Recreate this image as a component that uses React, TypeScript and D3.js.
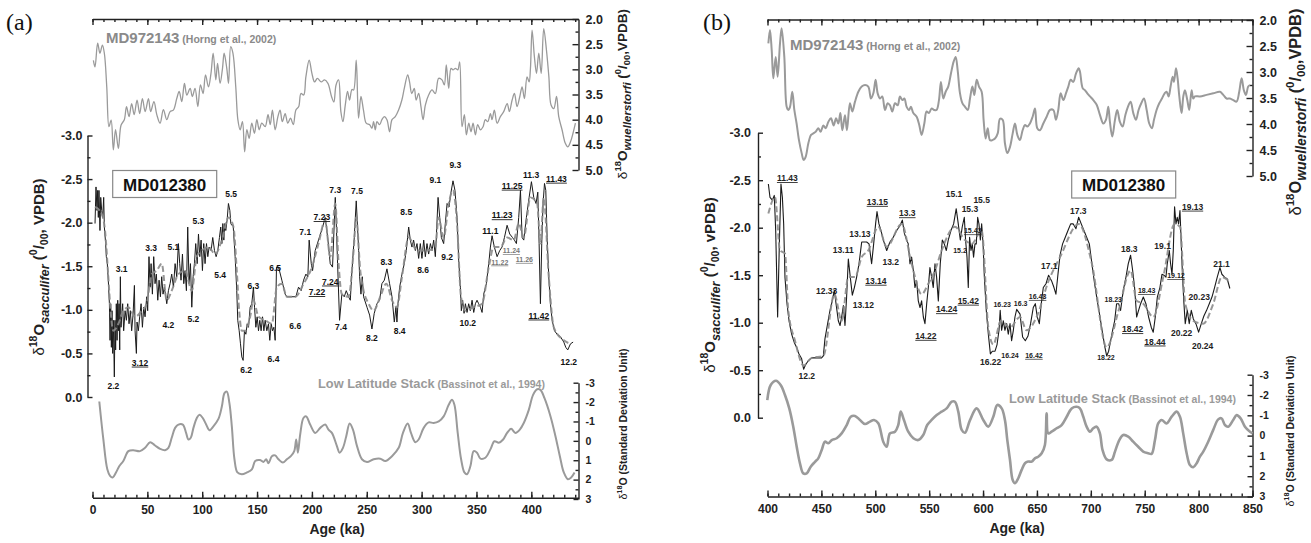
import { useEffect, useRef } from "react";
import * as d3 from "d3";

type Pt = [number, number];
type Lab = [string, number, number, string];

const FONT = "'Liberation Sans', Arial, Helvetica, sans-serif";

// ---------- panel (a): 0-443 ka ----------
const wuelA: Pt[] = [[0.8,2.82],[2.3,2.95],[4.7,2.48],[6.8,2.68],[9,2.52],[10.8,2.68],[13,3.35],[15,4.14],[17,4.01],[19,4.6],[21,4.2],[23.6,4.57],[26,4.11],[29,4.0],[31,3.74],[33.3,3.94],[35.7,3.68],[38,3.9],[40.6,3.61],[43,3.88],[45.5,3.58],[48,3.84],[51,3.58],[53,3.84],[56,3.64],[58.6,3.9],[61.6,4.07],[64.6,3.8],[67.7,4.0],[70.7,3.84],[73.7,3.81],[76.8,3.58],[79,3.44],[81.4,3.64],[83.8,3.28],[86,3.51],[89,3.38],[91,3.54],[93.5,3.38],[96,3.74],[98.4,3.31],[100.8,3.48],[103,3.11],[105.7,3.35],[108,3.08],[110,2.68],[112.4,3.21],[114,2.88],[116.3,3.28],[118.5,2.98],[120,2.68],[122.4,2.98],[124,3.28],[126,2.55],[128,2.68],[130.6,3.35],[132.5,4.0],[134.6,4.2],[136.7,4.04],[138.7,4.64],[140.7,4.2],[142.8,4.37],[145.2,4.07],[147.6,4.27],[149.8,4.0],[152,4.2],[154.3,4.07],[157.4,4.14],[160,3.9],[162,4.1],[164,3.81],[166.5,4.2],[169,3.94],[171,3.81],[173,4.04],[175.6,3.88],[178,4.07],[180.5,3.97],[183,4.1],[185.4,3.81],[188,3.74],[190,3.48],[192.5,3.51],[194.5,3.15],[197.5,2.82],[200,3.08],[202.4,3.25],[205,3.18],[208.5,3.25],[211.5,3.21],[214.6,3.28],[218,3.55],[220,3.65],[222,3.31],[224.3,3.21],[226.4,3.84],[228.3,4.04],[230.4,3.71],[232.5,3.44],[234.3,3.61],[236.5,3.4],[238,3.41],[240.4,2.82],[242.5,3.97],[244.7,3.54],[247,3.81],[249.5,4.07],[252.6,4.1],[254.7,4.17],[256.2,4.04],[257.8,4.2],[259.3,4.04],[261.7,4.1],[263.8,4.0],[266,3.94],[268.4,4.0],[270.8,4.24],[273,4.0],[276,3.94],[279,3.81],[282,3.61],[284.2,3.38],[287.3,3.11],[289,3.25],[291,3.48],[293.3,3.38],[295,3.61],[297.3,3.48],[299.4,3.74],[301.3,4.0],[303.4,3.71],[306.4,3.51],[309.5,3.41],[312.5,3.48],[315.5,3.18],[318.6,3.21],[320.7,3.31],[322.5,2.91],[324.7,3.38],[326.8,2.98],[328.6,3.01],[330.8,2.98],[333,3.01],[334.7,2.85],[336.8,4.14],[339,3.9],[340.8,4.3],[343,4.07],[345,4.24],[346.9,4.07],[349,4.3],[351.1,4.1],[353.6,4.2],[356,4.14],[358,4.0],[360.3,4.04],[362.7,3.88],[364.2,4.0],[366.3,3.81],[368.8,4.07],[371.8,3.94],[374.8,3.84],[378,3.68],[380,3.84],[382.5,3.61],[384.6,3.48],[387,3.74],[389.5,3.54],[391.6,3.35],[393.7,3.58],[396.1,3.15],[398,3.25],[399.2,2.98],[400.7,2.22],[402.8,2.75],[404.7,3.08],[406.8,2.68],[409,3.08],[411.3,2.19],[413.8,2.62],[416,3.15],[418,3.71],[420.5,3.78],[423,3.54],[425,3.94],[428,4.2],[431,4.47],[433.2,4.54],[435.7,4.44],[438,4.27],[440.2,4.07]];

const saccA: Pt[] = [[2.3,-1.99],[3.2,-2.41],[4.1,-2.14],[4.7,-2.37],[5.3,-2.06],[5.9,-2.37],[6.8,-1.91],[7.5,-2.29],[8.4,-2.14],[9.3,-2.06],[10.2,-2.29],[10.8,-1.95],[12,-1.76],[12.6,-1.61],[13.5,-1.53],[14.4,-1.34],[15.4,-1.07],[16,-0.65],[16.6,-1.07],[17.2,-0.57],[17.8,-0.99],[18.4,-0.5],[19,-0.88],[19.9,-0.23],[20.5,-0.88],[21.1,-0.54],[21.7,-1.07],[22.4,-0.65],[23,-1.11],[23.6,-0.76],[24.2,-1.07],[24.8,-0.54],[25.4,-1.38],[26,-0.8],[26.6,-0.92],[27.5,-1.07],[28.4,-0.76],[29.7,-0.99],[30.9,-0.88],[32.1,-1.07],[33.3,-0.84],[34.5,-0.99],[35.7,-0.76],[37,-0.95],[38.2,-1.28],[38.8,-0.76],[40,-0.5],[40.6,-0.86],[41.8,-0.76],[43,-0.92],[44.3,-1.07],[45.5,-0.8],[46.7,-1.03],[47.9,-0.92],[49.4,-1.15],[50.3,-0.99],[51.5,-1.61],[52.5,-1.26],[53.4,-1.53],[54.6,-1.18],[55.8,-1.61],[57,-1.3],[58.2,-1.41],[59.5,-1.11],[60.7,-1.34],[61.9,-1.15],[63.1,-1.38],[64.3,-1.18],[65.5,-1.26],[67.7,-1.07],[69.2,-1.22],[70.7,-1.3],[72.2,-1.41],[73.8,-1.26],[75.3,-1.53],[76.8,-1.38],[78.3,-1.76],[79.5,-1.53],[80.7,-1.34],[82,-1.64],[83.2,-1.3],[84.4,-1.45],[85.6,-1.22],[86.8,-1.95],[88,-1.3],[89.3,-1.53],[90.5,-1.03],[91.7,-1.38],[92.9,-1.53],[94.1,-1.76],[95.4,-1.53],[96.6,-1.87],[97.8,-1.61],[99,-1.8],[100.2,-1.45],[101.4,-1.76],[102.6,-1.53],[103.9,-1.76],[105.1,-1.61],[106.3,-1.72],[108.1,-1.68],[109.6,-1.83],[111.2,-1.68],[112.7,-1.61],[114.2,-1.68],[115.7,-1.83],[116.9,-1.95],[117.9,-1.76],[118.8,-1.99],[119.7,-1.8],[120.6,-1.99],[121.5,-1.91],[122.7,-2.03],[123.9,-2.22],[125.2,-2.14],[126.1,-1.99],[127,-1.97],[128.2,-1.97],[130,-1.61],[131.5,-1.22],[132.4,-0.88],[133.7,-0.76],[134.9,-0.61],[136.1,-0.46],[137.3,-0.42],[138.5,-0.76],[139.8,-0.72],[141,-0.84],[142.2,-0.8],[143.7,-1.03],[145.2,-1.07],[146.7,-1.26],[147.7,-1.03],[148.9,-0.8],[150.1,-0.92],[151.3,-0.76],[152.5,-0.88],[153.7,-0.76],[155,-0.92],[156.2,-0.76],[157.4,-0.88],[158.9,-0.76],[160.4,-0.84],[161.6,-0.65],[162.9,-0.84],[164.1,-0.76],[165.3,-0.8],[166.5,-0.65],[167.7,-1.49],[169.6,-1.49],[172.6,-1.34],[175.6,-1.18],[177.2,-1.15],[181.7,-1.15],[185.4,-1.15],[187.8,-1.26],[190.2,-1.22],[192.4,-1.34],[194.5,-1.41],[196.3,-1.38],[197.5,-1.8],[199.4,-1.53],[200.6,-1.45],[203,-1.68],[206,-1.8],[209.8,-1.95],[212.1,-2.06],[214.6,-1.8],[216.7,-1.53],[218.8,-1.49],[221.3,-2.29],[222.2,-1.99],[223.4,-1.53],[225.2,-0.88],[227.3,-1.18],[229.5,-1.15],[231.3,-1.22],[233.4,-1.15],[235,-1.11],[236.5,-1.45],[238.6,-1.83],[240.4,-2.25],[241.6,-1.95],[242.6,-1.68],[243.5,-1.38],[244.7,-1.18],[245.9,-1.38],[247.1,-1.15],[250.2,-1.03],[252.6,-0.94],[254.7,-0.78],[256.8,-0.96],[259.3,-1.07],[261.7,-1.11],[263.8,-1.3],[266,-1.34],[268.4,-1.47],[270.8,-1.3],[273,-1.15],[275.1,-0.86],[276.6,-1.03],[277.5,-0.86],[278.4,-1.07],[280,-1.26],[282.1,-1.41],[284.2,-1.53],[286,-1.68],[288.2,-1.95],[289.7,-1.8],[291.2,-1.72],[292.7,-1.8],[294.3,-1.68],[295.8,-1.76],[297.3,-1.59],[298.8,-1.76],[300.3,-1.59],[301.9,-1.8],[303.4,-1.61],[304.9,-1.76],[306.4,-1.64],[308,-1.76],[309.5,-1.68],[311,-1.8],[312.5,-1.61],[313.4,-1.83],[315,-2.29],[316.5,-2.06],[318,-1.83],[320.1,-1.76],[321.6,-1.99],[323.2,-2.22],[325,-2.18],[326.8,-2.35],[328.6,-2.48],[330.4,-2.37],[332.3,-2.06],[333.8,-1.57],[335.3,-1.26],[336.2,-0.99],[337.4,-1.11],[338.7,-0.96],[339.9,-1.07],[341.4,-0.97],[342.9,-1.07],[344.4,-0.99],[346,-1.11],[347.5,-0.97],[349,-1.07],[350.5,-1.11],[352,-1.07],[353.6,-1.03],[355.1,-0.97],[356.6,-1.18],[359,-1.3],[361.2,-1.53],[362.7,-1.72],[364.2,-1.85],[366.3,-1.72],[368.8,-1.61],[371.2,-1.68],[373.3,-1.72],[375.5,-1.83],[377.9,-1.97],[380.3,-1.87],[382.8,-1.83],[384.6,-1.8],[386.4,-1.76],[388.5,-2.06],[390.1,-2.37],[391.6,-1.83],[393.1,-1.8],[395.5,-2.06],[398,-2.29],[400.1,-2.47],[402.2,-2.29],[404.3,-2.22],[405.9,-2.35],[407.1,-1.76],[408.3,-1.07],[409.5,-1.76],[410.7,-2.22],[412,-2.45],[413.2,-2.37],[414.4,-1.83],[415.9,-1.38],[417.4,-1.07],[419,-0.88],[421.1,-0.76],[423.5,-0.72],[426.6,-0.69],[429.6,-0.63],[431.4,-0.57],[433.2,-0.54],[435.7,-0.61],[438.1,-0.63]];

const saccSmoothA: Pt[] = [[2.3,-2.18],[8.4,-2.1],[11.4,-1.91],[14.4,-1.38],[16,-1.07],[19,-0.76],[23.6,-0.84],[28.1,-0.99],[32.7,-1.03],[38.8,-0.92],[44.9,-0.99],[49.4,-1.07],[54,-1.41],[58.5,-1.45],[63.1,-1.53],[67.7,-1.11],[72.2,-1.22],[78.3,-1.41],[84.4,-1.45],[90.5,-1.22],[95,-1.61],[99.6,-1.68],[105.7,-1.72],[111.8,-1.64],[117.9,-1.8],[124,-2.06],[128.5,-1.95],[131.5,-1.45],[133.7,-0.99],[136.1,-0.76],[139.1,-0.76],[143.7,-0.92],[146.7,-1.11],[151.3,-0.92],[157.4,-0.88],[163.5,-0.84],[168,-1.26],[172.6,-1.3],[177.2,-1.15],[184.8,-1.15],[192.4,-1.3],[200,-1.49],[206,-1.76],[212.1,-2.03],[216.7,-1.61],[221.3,-2.22],[224.3,-1.53],[227.3,-1.18],[233.4,-1.15],[238,-1.68],[240.4,-2.06],[244.1,-1.45],[247.1,-1.22],[251.7,-1.07],[256.2,-0.99],[262.3,-1.15],[267.8,-1.3],[273,-1.11],[277.5,-1.03],[282.1,-1.38],[288.2,-1.83],[295.8,-1.68],[304.9,-1.68],[312.5,-1.72],[315.5,-2.06],[320.1,-1.83],[324.7,-2.22],[328.6,-2.37],[332.3,-1.99],[335.9,-1.15],[339.9,-0.99],[347.5,-1.03],[355.1,-1.07],[361.2,-1.49],[365.7,-1.72],[371.8,-1.72],[377.9,-1.83],[384,-1.8],[388.5,-1.99],[393.1,-1.83],[399.2,-2.29],[405.3,-2.22],[408.3,-1.76],[411.3,-2.29],[415.9,-1.38],[420.5,-0.8],[429.6,-0.65],[435.7,-0.61]];

const stackA: Pt[] = [[6.2,-2.03],[9.9,-0.07],[13.5,1.47],[16,1.81],[18.4,1.89],[21.4,1.63],[24.5,1.3],[28.1,1.04],[32.7,0.53],[37.2,0.48],[43.3,0.53],[47.9,0.36],[52.5,0.07],[57,0.24],[61.6,0.41],[66.1,0.48],[69.2,0.36],[72.2,-0.16],[75.3,-0.67],[78.3,-0.84],[82.3,-0.84],[85.3,-0.41],[87.4,-0.07],[89.6,-0.16],[92,-0.67],[95.1,-1.18],[97.5,-1.35],[100.5,-1.18],[103.6,-0.84],[106.6,-0.55],[110.2,-0.75],[114.8,-1.13],[117.9,-1.77],[120.3,-2.46],[122.4,-2.54],[124.8,-1.95],[127,-0.75],[129.4,0.95],[132.1,1.63],[136.1,1.72],[140.7,1.63],[145.3,1.47],[148.3,1.04],[152.8,0.99],[155.8,1.09],[158.3,0.95],[160.4,1.16],[163.5,0.79],[166.5,0.75],[169.5,0.95],[173.5,1.12],[177.2,0.95],[180.8,0.79],[183.9,0.53],[185.7,-0.07],[187.2,0.61],[189.3,-0.32],[192.3,-1.18],[194.8,-1.26],[198.4,-0.84],[203,-0.41],[207.6,-0.67],[212.1,-0.84],[215.1,-0.58],[218.2,-0.41],[222.8,0.27],[225.2,0.61],[228.3,0.36],[231.3,-0.24],[234.4,-0.89],[237.4,-0.58],[241.1,0.27],[245.6,0.95],[250.2,1.09],[256.3,0.95],[262.3,0.92],[266.9,1.04],[273,0.79],[279.1,0.36],[283,-0.41],[287.3,-0.89],[290.3,-0.41],[294.3,0.07],[297.3,-0.07],[301.9,-0.67],[306.4,-0.95],[311,-0.92],[315.6,-1.0],[320.1,-1.26],[324.7,-1.86],[327.7,-2.12],[329.9,-1.86],[332.9,-0.41],[336,0.95],[339,1.63],[341.4,1.72],[344.5,1.3],[347.5,0.53],[350.5,0.61],[353.6,0.92],[358.1,0.87],[362.7,0.44],[366.4,0.02],[370.3,0.1],[374.3,-0.07],[377.9,-0.41],[381.6,-0.62],[385.5,-0.41],[389.5,-0.58],[393.1,-0.92],[397.7,-1.6],[401.6,-2.37],[405.3,-2.66],[408.3,-2.63],[412,-2.2],[417.5,-1.26],[422,-0.24],[426,0.79],[429.6,1.63],[433.3,1.98],[436.3,1.89],[439.4,1.63]];

// isotope stage labels: text, age, value, flags (u underline, s small, g grey)
const stagesA: Lab[] = [["3.1",26.6,-1.43,""],["3.3",53.4,-1.68,""],["5.1",73.7,-1.69,""],["5.3",96.5,-1.99,""],["5.5",126.4,-2.29,""],["5.4",116.3,-1.37,""],["4.2",69.2,-0.79,""],["5.2",92,-0.86,""],["3.12",43.3,-0.36,"u"],["2.2",19,-0.09,""],["6.2",140,-0.28,""],["6.4",165,-0.4,""],["6.3",146.7,-1.24,""],["6.5",166.5,-1.45,""],["6.6",184.8,-0.78,""],["7.1",193.9,-1.86,""],["7.22",204.6,-1.17,"u"],["7.23",209.1,-2.03,"u"],["7.24",216.7,-1.29,"u"],["7.3",221.3,-2.34,""],["7.5",241.1,-2.33,""],["7.4",226.5,-0.77,""],["8.2",254.7,-0.64,""],["8.3",267.8,-1.52,""],["8.4",280,-0.72,""],["8.5",286,-2.09,""],["8.6",301.3,-1.42,""],["9.1",312.5,-2.45,""],["9.2",323.2,-1.57,""],["9.3",330.7,-2.63,""],["10.2",342,-0.81,""],["11.1",362.7,-1.87,""],["11.22",371.2,-1.52,"usg"],["11.23",373.4,-2.05,"u"],["11.24",381.8,-1.65,"usg"],["11.25",382.5,-2.39,"u"],["11.26",393.7,-1.55,"usg"],["11.3",399.8,-2.51,""],["11.42",406.8,-0.9,"u"],["11.43",422.9,-2.47,"u"],["12.2",434.1,-0.37,""]];

// ---------- panel (b): 400-850 ka ----------
const wuelB: Pt[] = [[400.8,2.45],[402.3,2.19],[403.9,2.58],[405.4,3.12],[407.6,2.71],[409.4,3.09],[411.6,2.45],[413.1,2.16],[415.6,2.71],[417.8,3.67],[419.3,3.73],[420.9,3.67],[423,3.38],[424.9,3.73],[427,3.99],[429.2,4.31],[431.7,4.56],[433.5,4.69],[435.4,4.63],[437.9,4.37],[440.4,4.21],[442.5,4.18],[444.7,4.15],[447.2,4.08],[449.3,4.15],[451.8,4.03],[454,4.08],[456.4,3.96],[458.9,3.89],[461.4,4.03],[463.6,3.89],[465.7,3.99],[467.6,3.79],[469.4,4.12],[471.9,3.83],[473.7,4.12],[476.5,3.6],[478.7,3.76],[481.2,3.57],[484.3,3.38],[487.4,3.28],[490.5,3.25],[493.5,3.28],[496,3.51],[498.2,3.41],[500.3,3.15],[502.2,3.41],[504.4,3.51],[506.5,3.47],[509,3.73],[511.5,3.6],[513.6,3.64],[515.8,3.76],[518.3,3.6],[520.8,3.64],[522.9,3.47],[525.1,3.54],[527,3.51],[529.1,3.67],[531.3,3.73],[533.1,3.67],[535.3,3.79],[538.4,3.86],[540.8,4.02],[543,4.21],[545.5,3.99],[547.6,3.76],[549.8,3.79],[552.3,3.7],[554.7,3.73],[556.9,3.73],[559.1,3.54],[560.9,3.19],[563.1,3.51],[565.3,3.38],[567.7,3.28],[570.2,3.03],[572.7,2.8],[574.6,2.71],[576.4,2.96],[578.6,3.41],[580.8,3.6],[583.3,3.67],[585.8,3.73],[587.9,3.51],[590.1,3.28],[591.9,3.44],[594.1,3.15],[596.2,3.28],[598.7,3.38],[600.5,3.92],[602.4,4.28],[604.3,4.08],[606.4,4.31],[608.6,4.31],[611.1,4.28],[613.6,4.18],[615.7,3.9],[618.2,3.92],[620.3,4.37],[622.5,4.56],[625,4.44],[627.5,4.18],[629.6,3.99],[631.8,4.21],[634.2,4.31],[636.7,4.12],[638.9,4.02],[641.1,4.05],[643.5,3.99],[646,3.86],[648.2,3.7],[650.3,4.08],[652.8,4.12],[655.9,3.99],[659,3.86],[662.1,3.73],[665.2,3.73],[667.6,3.92],[669.8,3.73],[672,3.41],[674.5,3.54],[676.9,3.41],[679.1,3.28],[681.3,3.15],[683.7,3.19],[686.2,3.03],[688.7,2.93],[689.9,2.99],[692.4,3.31],[694.5,3.35],[696.7,3.41],[699.2,3.47],[702.3,3.54],[705.4,3.63],[708.5,3.83],[711.6,3.99],[714,3.92],[716.2,3.67],[717.7,3.96],[719.9,4.24],[722.4,3.92],[724.5,3.73],[727,3.96],[729.5,4.05],[732,3.83],[734.4,3.67],[736.9,3.57],[739.4,3.79],[741.9,3.92],[744.3,3.73],[746.8,3.6],[749.3,3.51],[751.8,3.73],[754.2,3.99],[756.7,4.08],[758.6,3.92],[761,3.73],[763.5,3.6],[766,3.51],[768.5,3.41],[770.3,3.38],[772.2,3.47],[774,3.28],[775.9,3.09],[777.1,3.19],[779,2.93],[780.5,3.12],[782.1,3.47],[784.2,3.79],[785.8,3.47],[787.3,3.35],[789.5,3.54],[791.3,3.73],[793.5,3.35],[795,3.51],[796.6,3.47],[801.2,3.47],[807.4,3.44],[813.6,3.41],[819.8,3.38],[822.9,3.44],[826,3.51],[829,3.51],[832.2,3.54],[835.2,3.57],[837.7,3.38],[839.9,3.12],[842,3.35],[843.9,3.44],[846,3.28],[847.6,3.25]];

const saccB: Pt[] = [[400.8,-2.46],[402.3,-2.32],[404.5,-2.29],[406.3,-2.34],[407.6,-1.97],[409.4,-1.06],[411,-1.83],[412.5,-2.46],[413.8,-2.32],[415,-2.04],[416.2,-1.48],[418.1,-1.2],[420,-1.02],[422.4,-0.88],[424.9,-0.79],[427.1,-0.74],[429.2,-0.67],[431.7,-0.62],[433.5,-0.51],[435.4,-0.56],[437.9,-0.6],[441,-0.63],[444.1,-0.63],[447.2,-0.63],[450.2,-0.63],[451.8,-0.65],[453.3,-0.83],[455.8,-0.99],[458,-1.13],[460.1,-1.23],[462,-1.34],[463.6,-1.2],[465.7,-1.02],[467.3,-0.97],[468.8,-1.06],[470.4,-1.18],[471.9,-0.97],[473.4,-1.27],[475,-1.67],[476.8,-1.48],[478.7,-1.29],[480.6,-1.37],[482.7,-1.48],[484.9,-1.62],[487.4,-1.85],[492,-1.85],[494.2,-1.83],[496.6,-1.62],[498.5,-1.83],[500.3,-2.04],[501.6,-2.17],[503.4,-2.04],[505.3,-1.97],[507.5,-1.87],[510.6,-1.76],[513.6,-1.85],[516.7,-1.9],[519.8,-1.97],[522.9,-2.02],[525.1,-2.08],[527,-1.94],[529.1,-1.87],[530.6,-1.83],[532.2,-1.62],[533.7,-1.69],[535.3,-1.55],[536.8,-1.37],[538.4,-1.44],[539.9,-1.23],[541.5,-1.16],[543,-1.23],[544.6,-1.06],[546.1,-0.99],[547.7,-1.2],[549.2,-1.37],[550.7,-1.58],[552.3,-1.48],[553.8,-1.37],[555.4,-1.62],[556.9,-1.48],[558.5,-1.23],[560.3,-1.62],[562.2,-1.87],[564,-1.83],[565.9,-1.76],[567.7,-1.87],[570.2,-1.97],[572.7,-2.04],[575.1,-2.2],[577,-2.04],[578.9,-1.87],[580.7,-2.01],[582.6,-2.11],[583.8,-1.87],[585.1,-1.69],[586.3,-1.37],[587.5,-1.9],[588.8,-1.76],[590,-1.83],[591.2,-1.69],[592.5,-1.83],[593.7,-1.83],[595,-2.11],[596.2,-2.04],[597.5,-1.87],[598.7,-2.04],[600,-1.83],[601.2,-1.48],[603,-1.13],[604.9,-0.88],[606.8,-0.67],[608.6,-0.7],[611.1,-0.7],[613,-0.77],[614.8,-0.92],[615.9,-1.13],[617.2,-0.92],[618.8,-1.02],[620.3,-0.92],[621.9,-0.99],[623.4,-0.88],[625,-0.99],[626.5,-0.81],[628.1,-0.92],[629.6,-1.06],[631.2,-1.14],[634.3,-1.09],[636.7,-0.85],[639.2,-0.81],[641.7,-0.86],[644.1,-0.99],[646.6,-1.16],[648.5,-1.2],[650.3,-1.06],[652.2,-0.99],[654,-1.2],[655.9,-1.37],[658.4,-1.41],[660.8,-1.5],[663.6,-1.44],[665.8,-1.37],[667.6,-1.3],[669.5,-1.51],[671.4,-1.71],[673.8,-1.83],[676.3,-1.9],[678.8,-1.97],[681.3,-2.04],[683.7,-2.04],[686.2,-1.99],[688.7,-2.11],[691.1,-2.04],[693.6,-1.97],[696.1,-1.9],[698.6,-1.83],[701,-1.62],[703.5,-1.41],[706,-1.23],[708.5,-1.06],[711,-0.88],[713.1,-0.74],[714.7,-0.65],[716.5,-0.7],[718.4,-0.81],[720.2,-0.92],[722.1,-1.02],[723.9,-1.2],[725.8,-1.2],[727.6,-1.13],[730.1,-1.34],[732.6,-1.48],[734.7,-1.62],[736.9,-1.71],[738.8,-1.55],[740.6,-1.37],[742.5,-1.06],[744.3,-1.13],[746.2,-1.2],[748.7,-1.27],[751.1,-1.2],[753.6,-1.06],[756.1,-0.95],[757.9,-0.9],[759.8,-1.06],[761.7,-1.27],[764.1,-1.37],[766,-1.51],[767.8,-1.5],[769.7,-1.48],[770.9,-1.62],[772.8,-1.76],[774,-1.62],[775.3,-1.51],[776.5,-1.76],[777.7,-2.22],[779,-2.04],[780.2,-2.11],[781.4,-2.04],[782.7,-2.18],[783.9,-1.83],[785.1,-1.48],[786.4,-1.2],[787.6,-0.99],[789.5,-1.13],[791.3,-0.99],[793.2,-1.13],[795.1,-1.04],[797.5,-0.99],[800,-0.9],[802.5,-0.99],[804.9,-1.07],[807.4,-1.13],[809.9,-1.2],[812.4,-1.27],[814.8,-1.37],[817.3,-1.48],[819.8,-1.58],[821.6,-1.51],[824.1,-1.48],[826.6,-1.46],[829,-1.36]];

const saccSmoothB: Pt[] = [[400.8,-2.15],[407,-2.32],[411.6,-1.76],[416.2,-1.73],[419.3,-1.13],[425.5,-0.81],[433.5,-0.55],[441,-0.63],[451.8,-0.65],[462,-1.3],[468.8,-1.02],[475,-1.48],[481.2,-1.48],[487.4,-1.69],[493.5,-1.76],[502.8,-2.01],[510.6,-1.8],[524.5,-2.04],[533.7,-1.62],[543,-1.3],[549.2,-1.41],[555.4,-1.55],[561.6,-1.76],[573.9,-2.01],[583.2,-1.87],[589.4,-1.83],[598.7,-1.97],[604.9,-0.95],[609.5,-0.77],[616.6,-1.02],[625,-0.95],[634.3,-1.06],[640.4,-0.92],[649.7,-1.06],[660.8,-1.44],[671.4,-1.69],[688.7,-2.04],[701,-1.62],[714.7,-0.74],[725.8,-1.13],[736.9,-1.55],[742.5,-1.23],[748.7,-1.2],[757.9,-1.06],[767.2,-1.48],[777.7,-2.04],[782.7,-2.01],[787.6,-1.2],[795.1,-1.02],[804.3,-0.99],[813.6,-1.2],[821.6,-1.48],[829,-1.43]];

const stackB: Pt[] = [[399.8,-1.75],[403,-2.49],[407.9,-2.7],[412.2,-2.49],[416.2,-2.0],[420.2,-1.34],[423.9,-0.44],[427.1,0.55],[430.1,1.36],[433.2,1.86],[436.4,1.86],[440.1,1.53],[444.1,1.29],[447.1,1.12],[450.3,0.71],[453.3,0.3],[456.4,0.38],[459.6,0.22],[464.2,0.13],[468.8,-0.11],[473.5,-0.52],[477.2,-0.93],[481.2,-0.97],[485.8,-0.77],[490.4,-0.57],[495.1,-0.69],[498.8,-0.77],[502.8,-0.61],[507.4,0.3],[510.6,0.55],[513.6,-0.11],[518.3,-0.19],[521.3,-0.52],[523.6,-1.18],[526.6,-0.77],[530.6,-0.19],[535.3,0.13],[539.9,0.22],[544.5,-0.03],[548.2,-0.52],[552.3,-0.77],[557,-1.01],[561.6,-1.18],[566.2,-1.34],[570.9,-1.67],[573.9,-1.67],[577,-1.18],[580.2,-0.28],[583.2,-0.14],[587.8,-0.75],[594,-1.34],[600.2,-0.77],[604.8,-0.44],[609.5,-0.93],[613.2,-1.51],[617.3,-1.34],[620.3,-0.77],[622.5,0.22],[625,1.2],[627.5,2.19],[629.6,2.35],[632.7,2.1],[635.8,1.69],[638.9,1.36],[641.9,1.28],[645.1,1.28],[648.1,1.12],[651.2,1.04],[654.4,0.87],[657.4,0.46],[659,-1.1],[660.5,-0.11],[663.6,-0.19],[668.3,-0.36],[672.9,-0.52],[677.6,-0.93],[682.2,-1.34],[686.8,-1.42],[689.9,-1.34],[693,-0.93],[696.1,-0.44],[699.2,-0.19],[702.2,-0.36],[705.4,-0.44],[708.4,-0.11],[710.9,0.71],[714.7,1.17],[719.3,1.2],[722.4,0.79],[726.4,0.22],[730.1,-0.03],[734.7,0.05],[739.3,0.3],[744,0.55],[748.6,0.79],[753.2,0.87],[756.4,0.9],[759.5,0.22],[762.5,-0.6],[765.7,-0.77],[770.3,-0.6],[775,-0.93],[779.6,-1.18],[782.7,-0.93],[785.7,-0.11],[788.9,0.87],[791.9,1.45],[795,1.56],[798.2,1.36],[801.2,1.04],[804.3,0.79],[808.9,0.3],[813.5,-0.27],[818.2,-0.8],[821.3,-0.85],[824.4,-0.52],[827.5,-0.44],[832.1,-0.77],[835.3,-1.01],[839,-0.85],[843,-0.44],[847.7,-0.19],[850,-0.11]];

const stagesB: Lab[] = [["11.43",418.4,-2.49,"u"],["12.2",436.4,-0.41,""],["12.33",454.9,-1.3,""],["13.11",470.3,-1.73,""],["13.12",488.9,-1.16,""],["13.13",485.8,-1.9,""],["13.14",500.6,-1.41,"u"],["13.15",501.9,-2.24,"u"],["13.2",514.3,-1.61,""],["13.3",529.7,-2.12,"u"],["14.22",547,-0.83,"u"],["14.24",566.2,-1.11,"u"],["15.1",573,-2.32,""],["15.2",578.6,-1.73,"s"],["15.3",587.8,-2.17,""],["15.42",586.3,-1.2,"u"],["15.43",590.4,-1.94,"us"],["15.5",598.7,-2.26,""],["16.22",607,-0.55,""],["16.23",617.8,-1.17,"s"],["16.24",625,-0.63,"s"],["16.3",634.9,-1.18,"s"],["16.42",647.2,-0.63,"us"],["16.43",650.6,-1.25,"us"],["17.1",661.4,-1.57,""],["17.3",688.3,-2.14,""],["18.22",714,-0.61,"s"],["18.23",720.8,-1.22,"s"],["18.3",735.6,-1.74,""],["18.42",738.8,-0.9,"u"],["18.43",751.8,-1.31,"us"],["18.44",759.5,-0.77,"u"],["19.1",766.6,-1.78,""],["19.12",779,-1.47,"us"],["19.13",794.4,-2.19,"u"],["20.22",784.2,-0.86,""],["20.23",800.6,-1.24,""],["20.24",803.7,-0.72,""],["21.1",821.3,-1.59,""]];

// ---------- ticks ----------
const ageTicksA = [0, 50, 100, 150, 200, 250, 300, 350, 400];
const ageTicksB = [400, 450, 500, 550, 600, 650, 700, 750, 800, 850];
const saccTicks = [-3.0, -2.5, -2.0, -1.5, -1.0, -0.5, 0.0];
const wuelTicks = [2.0, 2.5, 3.0, 3.5, 4.0, 4.5, 5.0];
const stackTicks = [-3, -2, -1, 0, 1, 2, 3];

const panels = [
  {
    tag: "(a)", tagX: 6, xDomain: [0, 443], xRange: [92.5, 578.5], ageTicks: ageTicksA,
    topAxisY: 19, topRange: [19, 170], midRange: [135.5, 397], leftX: 87.5, leftPad: 5,
    stackRange: [382.7, 499], bottomY: 497.7,
    wuel: wuelA, sacc: saccA, smooth: saccSmoothA, stack: stackA, stages: stagesA,
    wuelW: 1.3, stackW: 2, sacW: 1, labCol: "#111",
    topLabel: [106, 43], box: [112.7, 170.5], stackLabel: [318, 388],
    leftTitle: [44, 267], vpdb: "VPDB", rightTitle: [627, 94, 13.5], stackTitle: [627, 424], age: [337, 534],
  },
  {
    tag: "(b)", tagX: 703, xDomain: [400, 850], xRange: [767.5, 1252.5], ageTicks: ageTicksB,
    topAxisY: 19.5, topRange: [20, 176], midRange: [132.7, 417.7], leftX: 758, leftPad: 7,
    stackRange: [374.7, 496.5], bottomY: 496.5,
    wuel: wuelB, sacc: saccB, smooth: saccSmoothB, stack: stackB, stages: stagesB,
    wuelW: 2, stackW: 2.6, sacW: 1.1, labCol: "#222",
    topLabel: [790, 50], box: [1071.7, 171], stackLabel: [1009, 403],
    leftTitle: [715, 285], vpdb: "vPDB", rightTitle: [1301, 112, 16.4], stackTitle: [1294, 431], age: [1017, 533],
  },
];

function rich(g: any, x: number, y: number, fs: number, parts: any[], rotate: boolean, fill = "#222") {
  const t = g.append("text")
    .attr("transform", `translate(${x},${y})` + (rotate ? " rotate(-90)" : ""))
    .attr("text-anchor", "middle")
    .attr("font-size", fs)
    .attr("font-weight", "bold")
    .attr("fill", fill)
    .style("white-space", "pre");
  let cur = 0;
  parts.forEach((p: any) => {
    const sh = (p.sh || 0) * fs;
    const ts = t.append("tspan").text(p.t).attr("dy", sh - cur);
    cur = sh;
    if (p.s) ts.attr("font-size", fs * p.s);
    if (p.it) ts.attr("font-style", "italic");
    if (p.n) ts.attr("font-weight", "normal");
  });
}

function styleAxis(sel: any, fs: number) {
  sel.attr("font-family", FONT).attr("font-size", fs).attr("font-weight", "bold");
  sel.selectAll("path, line").attr("stroke", "#222").attr("stroke-width", 1.4);
  sel.selectAll("text").attr("fill", "#222");
}

function drawPanel(svg: any, p: any) {
  const g = svg.append("g");
  const x = d3.scaleLinear().domain(p.xDomain).range(p.xRange);
  const yTop = d3.scaleLinear().domain([2, 5]).range(p.topRange);
  const yMid = d3.scaleLinear().domain([-3, 0]).range(p.midRange);
  const yStk = d3.scaleLinear().domain([-3, 3]).range(p.stackRange);
  const minorAge = d3.range(p.xDomain[0], p.xDomain[1] + 0.1, 10);
  const xr = p.xRange[1];

  // top axis (no labels)
  g.append("g").attr("transform", `translate(0,${p.topAxisY})`)
    .call(d3.axisTop(x).tickValues(p.ageTicks).tickSizeInner(-6).tickSizeOuter(0).tickFormat(() => ""))
    .call((s: any) => styleAxis(s, 12));
  g.append("g").attr("transform", `translate(0,${p.topAxisY})`)
    .call(d3.axisTop(x).tickValues(minorAge).tickSizeInner(-3).tickSizeOuter(0).tickFormat(() => ""))
    .call((s: any) => { s.select(".domain").remove(); styleAxis(s, 12); });

  // bottom axis
  g.append("g").attr("transform", `translate(0,${p.bottomY})`)
    .call(d3.axisBottom(x).tickValues(p.ageTicks).tickSizeInner(-6).tickSizeOuter(0).tickPadding(8).tickFormat((d: any) => String(d)))
    .call((s: any) => styleAxis(s, 12));
  g.append("g").attr("transform", `translate(0,${p.bottomY})`)
    .call(d3.axisBottom(x).tickValues(minorAge).tickSizeInner(-3).tickSizeOuter(0).tickFormat(() => ""))
    .call((s: any) => { s.select(".domain").remove(); styleAxis(s, 12); });

  // right axis: wuellerstorfi
  g.append("g").attr("transform", `translate(${xr},0)`)
    .call(d3.axisRight(yTop).tickValues(wuelTicks).tickSizeInner(-6).tickSizeOuter(0).tickPadding(7).tickFormat((d: any) => d.toFixed(1)))
    .call((s: any) => styleAxis(s, 12.5));
  g.append("g").attr("transform", `translate(${xr},0)`)
    .call(d3.axisRight(yTop).tickValues(d3.range(2.25, 5, 0.5)).tickSizeInner(-3).tickSizeOuter(0).tickFormat(() => ""))
    .call((s: any) => { s.select(".domain").remove(); styleAxis(s, 12); });

  // left axis: sacculifer
  g.append("g").attr("transform", `translate(${p.leftX},0)`)
    .call(d3.axisLeft(yMid).tickValues(saccTicks).tickSizeInner(-5).tickSizeOuter(0).tickPadding(p.leftPad).tickFormat((d: any) => d.toFixed(1)))
    .call((s: any) => styleAxis(s, 12.5));
  g.append("g").attr("transform", `translate(${p.leftX},0)`)
    .call(d3.axisLeft(yMid).tickValues(d3.range(-2.75, 0, 0.5)).tickSizeInner(-3).tickSizeOuter(0).tickFormat(() => ""))
    .call((s: any) => { s.select(".domain").remove(); styleAxis(s, 12); });

  // right axis: stack
  g.append("g").attr("transform", `translate(${xr},0)`)
    .call(d3.axisRight(yStk).tickValues(stackTicks).tickSizeInner(-5).tickSizeOuter(0).tickPadding(7).tickFormat((d: any) => String(d)))
    .call((s: any) => styleAxis(s, 10.5));
  g.append("g").attr("transform", `translate(${xr},0)`)
    .call(d3.axisRight(yStk).tickValues(d3.range(-2.5, 3, 1)).tickSizeInner(-3).tickSizeOuter(0).tickFormat(() => ""))
    .call((s: any) => { s.select(".domain").remove(); styleAxis(s, 10); });

  // curves
  const lineTop = d3.line<Pt>().x(d => x(d[0])).y(d => yTop(d[1])).curve(d3.curveCatmullRom.alpha(0.5));
  const lineMid = d3.line<Pt>().x(d => x(d[0])).y(d => yMid(d[1]));
  const lineStk = d3.line<Pt>().x(d => x(d[0])).y(d => yStk(d[1])).curve(d3.curveCatmullRom.alpha(0.5));

  g.append("path").attr("d", lineTop(p.wuel)).attr("fill", "none").attr("stroke", "#9a9a9a")
    .attr("stroke-width", p.wuelW).attr("stroke-linejoin", "round");
  g.append("path").attr("d", lineStk(p.stack)).attr("fill", "none").attr("stroke", "#9a9a9a")
    .attr("stroke-width", p.stackW).attr("stroke-linejoin", "round");
  g.append("path").attr("d", lineMid(p.sacc)).attr("fill", "none").attr("stroke", "#1a1a1a")
    .attr("stroke-width", p.sacW).attr("stroke-linejoin", "round");
  g.append("path").attr("d", lineMid.curve(d3.curveMonotoneX)(p.smooth)).attr("fill", "none").attr("stroke", "#8c8c8c")
    .attr("stroke-width", 2).attr("stroke-dasharray", "6 3").attr("opacity", 0.9);

  // stage labels
  g.append("g").attr("font-family", FONT).attr("font-weight", "bold").attr("text-anchor", "middle")
    .selectAll("text").data(p.stages).join("text")
    .attr("x", (d: Lab) => x(d[1]))
    .attr("y", (d: Lab) => yMid(d[2]))
    .attr("font-size", (d: Lab) => (d[3].includes("s") ? 7 : 8.5))
    .attr("fill", (d: Lab) => (d[3].includes("g") ? "#777" : p.labCol))
    .style("text-decoration", (d: Lab) => (d[3].includes("u") ? "underline" : "none"))
    .text((d: Lab) => d[0]);

  // panel tag
  g.append("text").attr("x", p.tagX).attr("y", 30).attr("font-family", "'Liberation Serif', 'Times New Roman', serif")
    .attr("font-size", 24).attr("fill", "#111").text(p.tag);

  // series names
  const tl = g.append("text").attr("x", p.topLabel[0]).attr("y", p.topLabel[1]).attr("font-family", FONT)
    .attr("font-weight", "bold").attr("fill", "#8a8a8a").style("white-space", "pre");
  tl.append("tspan").attr("font-size", 15).text("MD972143");
  tl.append("tspan").attr("font-size", 10.5).text(" (Horng et al., 2002)");

  const sl = g.append("text").attr("x", p.stackLabel[0]).attr("y", p.stackLabel[1]).attr("font-family", FONT)
    .attr("font-weight", "bold").attr("fill", "#9a9a9a").style("white-space", "pre");
  sl.append("tspan").attr("font-size", 12.8).text("Low Latitude Stack");
  sl.append("tspan").attr("font-size", 10.5).text(" (Bassinot et al., 1994)");

  g.append("rect").attr("x", p.box[0]).attr("y", p.box[1]).attr("width", 104).attr("height", 27)
    .attr("fill", "#fff").attr("stroke", "#888").attr("stroke-width", 1.2);
  g.append("text").attr("x", p.box[0] + 52).attr("y", p.box[1] + 20).attr("text-anchor", "middle")
    .attr("font-family", FONT).attr("font-weight", "bold").attr("font-size", 17).attr("fill", "#111").text("MD012380");

  // axis titles
  const tg = g.append("g").attr("font-family", FONT);
  rich(tg, p.leftTitle[0], p.leftTitle[1], 15, [
    { t: "δ", n: true }, { t: "18", s: 0.7, sh: -0.45 }, { t: "O" },
    { t: "sacculifer", s: 0.85, it: true, sh: 0.3 }, { t: " (" }, { t: "0", s: 0.7, sh: -0.45 },
    { t: "/" }, { t: "00", s: 0.7, sh: 0.25 }, { t: ", " + p.vpdb + ")" },
  ], true);
  rich(tg, p.rightTitle[0], p.rightTitle[1], p.rightTitle[2], [
    { t: "δ", n: true }, { t: "18", s: 0.7, sh: -0.45 }, { t: "O" },
    { t: "wuellerstorfi", s: 0.85, it: true, sh: 0.3 }, { t: " (" }, { t: "0", s: 0.7, sh: -0.45 },
    { t: "/" }, { t: "00", s: 0.7, sh: 0.25 }, { t: ",VPDB)" },
  ], true);
  rich(tg, p.stackTitle[0], p.stackTitle[1], 10.5, [
    { t: "δ", n: true }, { t: "18", s: 0.7, sh: -0.45 }, { t: "O (Standard Deviation Unit)" },
  ], true);
  rich(tg, p.age[0], p.age[1], 14, [{ t: "Age (ka)" }], false);
}

export default function App() {
  const svgRef = useRef<SVGSVGElement>(null);

  useEffect(() => {
    const svg = d3.select(svgRef.current);
    svg.selectAll("*").remove();
    panels.forEach(p => drawPanel(svg, p));
  }, []);

  return (
    <svg
      ref={svgRef}
      width={1311}
      height={543}
      style={{ position: "absolute", left: 0, top: 0, background: "#fff", display: "block" }}
    />
  );
}
